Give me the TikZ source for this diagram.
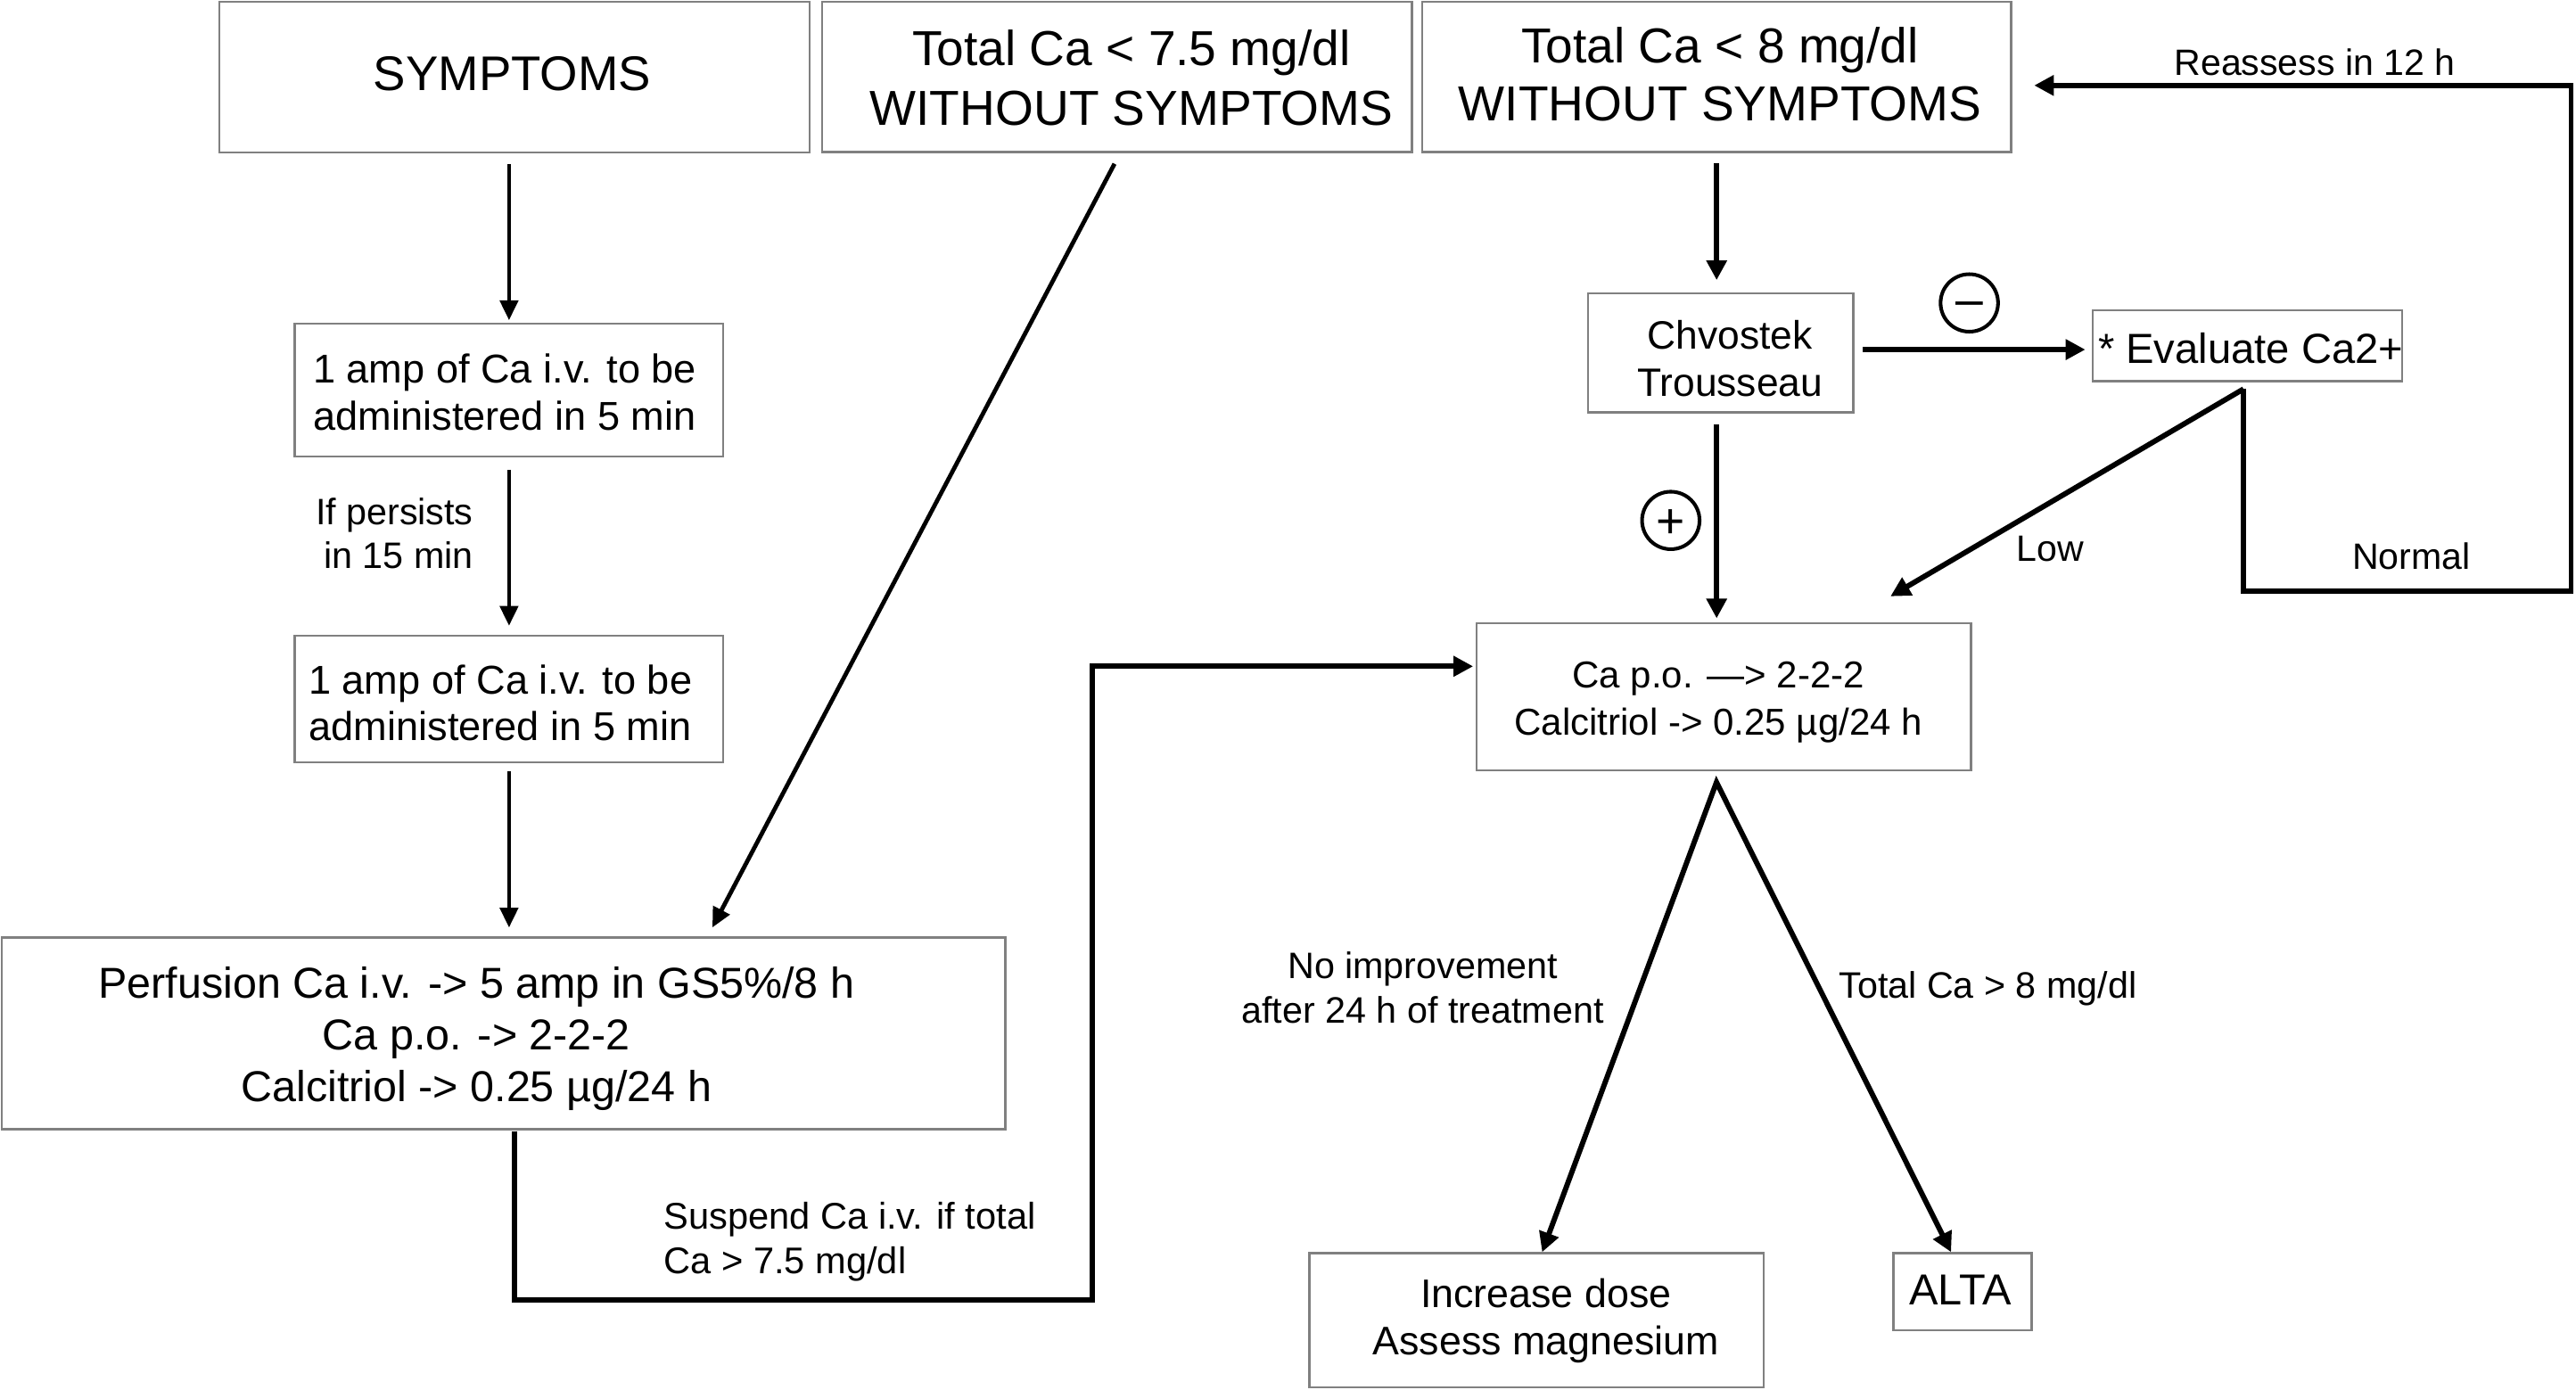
\documentclass[tikz,border=0pt]{standalone}
\usepackage{fontspec}
\setmainfont{Liberation Sans}
\usetikzlibrary{arrows.meta}
\definecolor{boxgray}{RGB}{128,128,128}
\begin{document}
\begin{tikzpicture}[x=1pt,y=-1pt,
  box/.style={draw=boxgray,line width=1.3pt,inner sep=0pt,outer sep=0pt},
  txt/.style={inner sep=0pt,outer sep=0pt,align=center},
  thinarr/.style={line width=2.2pt,-{Triangle[length=12pt,width=11pt]}},
  medarr/.style={line width=2.6pt,-{Triangle[length=12pt,width=11pt]}},
  thickarr/.style={line width=3.2pt,-{Triangle[length=12pt,width=12pt]}},
  bothpath/.style={line width=3.2pt,{Triangle[length=12pt,width=12pt]}-{Triangle[length=12pt,width=12pt]}},
  sgn/.style={circle,draw,line width=2.2pt,minimum size=35pt,inner sep=0pt}]
\useasboundingbox (0,0) rectangle (1568,846);

% ---------- boxes ----------
\node[box,minimum width=359.4pt,minimum height=91.8pt] (sym) at (313.2,46.9) {};
\node[box,minimum width=358.9pt,minimum height=91.5pt] (t75) at (680,46.75) {};
\node[box,minimum width=358.6pt,minimum height=91.5pt] (t8) at (1044.9,46.75) {};
\node[box,minimum width=260.9pt,minimum height=81pt] (b1) at (309.85,237.4) {};
\node[box,minimum width=260.9pt,minimum height=77.3pt] (b2) at (309.85,425.55) {};
\node[box,minimum width=611pt,minimum height=116.8pt] (perf) at (306.5,629) {};
\node[box,minimum width=161.5pt,minimum height=72.5pt] (chv) at (1047.25,214.75) {};
\node[box,minimum width=188.4pt,minimum height=43.2pt] (eval) at (1368,210.4) {};
\node[box,minimum width=301pt,minimum height=89.4pt] (capo) at (1049.2,424.1) {};
\node[box,minimum width=276.7pt,minimum height=81.6pt] (inc) at (935.35,803.7) {};
\node[box,minimum width=84pt,minimum height=47pt] (alta) at (1194.6,786.4) {};

% ---------- box texts ----------
\node[txt,font=\fontsize{29.6}{36}\selectfont] (symt) at (311.8,45) {SYMPTOMS};
\node[txt,font=\fontsize{29.9}{36.4}\selectfont] (t75t) at (688.7,47.5) {Total Ca < 7.5 mg/dl\\WITHOUT SYMPTOMS};
\node[txt,font=\fontsize{29.9}{35.2}\selectfont] (t8t) at (1047,45.4) {Total Ca < 8 mg/dl\\WITHOUT SYMPTOMS};
\node[txt,font=\fontsize{24.5}{28.7}\selectfont] (b1t) at (307.3,238.5) {1 amp of Ca i.v. to be\\administered in 5 min};
\node[txt,font=\fontsize{24.5}{28.7}\selectfont] (b2t) at (304.6,427.9) {1 amp of Ca i.v. to be\\administered in 5 min};
\node[txt,font=\fontsize{26.3}{31.5}\selectfont] (perft) at (290,632.3) {Perfusion Ca i.v. -> 5 amp in GS5\%/8 h\\Ca p.o. -> 2-2-2\\Calcitriol -> 0.25 µg/24 h};
\node[txt,font=\fontsize{24.1}{29}\selectfont] (chvt) at (1053,218.4) {Chvostek\\Trousseau};
\node[txt,font=\fontsize{25.6}{30}\selectfont] (evalt) at (1370,211.8) {* Evaluate Ca2+};
\node[txt,font=\fontsize{22.8}{28.7}\selectfont] (capot) at (1046,427.3) {Ca p.o. —> 2-2-2\\Calcitriol -> 0.25 µg/24 h};
\node[txt,font=\fontsize{24.3}{29}\selectfont] (inct) at (941,803.9) {Increase dose\\Assess magnesium};
\node[txt,font=\fontsize{26.4}{30}\selectfont] (altat) at (1193.3,785) {ALTA};

% ---------- labels ----------
\node[txt,align=right,anchor=east,font=\fontsize{22.4}{26.5}\selectfont] (persist) at (288,324.6) {If persists\\in 15 min};
\node[txt,align=left,anchor=west,font=\fontsize{22.6}{27.4}\selectfont] (susp) at (404,755.9) {Suspend Ca i.v. if total\\Ca > 7.5 mg/dl};
\node[txt,font=\fontsize{22.4}{27.5}\selectfont] (noimp) at (866,601.3) {No improvement\\after 24 h of treatment};
\node[txt,font=\fontsize{22.4}{27}\selectfont] (tgt8) at (1210,601.6) {Total Ca > 8 mg/dl};
\node[txt,font=\fontsize{22.3}{27}\selectfont] (reass) at (1409,38) {Reassess in 12 h};
\node[txt,font=\fontsize{22.3}{27}\selectfont] (low) at (1248,334) {Low};
\node[txt,font=\fontsize{22.3}{27}\selectfont] (normal) at (1467.8,338.6) {Normal};
\node[sgn] (minus) at (1198.7,184.4) {\fontsize{30}{30}\selectfont\smash{\raisebox{-8.1pt}{–}}};
\node[sgn] (plus) at (1017,316.8) {\fontsize{30}{30}\selectfont\smash{\raisebox{-10.5pt}{+}}};

% ---------- coordinates ----------
\coordinate (d1) at (678.4,99.7);
\coordinate (d2) at (433.6,564.6);
\coordinate (p1) at (313.4,688.6);
\coordinate (p3) at (665,791.5);
\coordinate (p4) at (665,405.6);
\coordinate (ce) at (1128,212.8);
\coordinate (ev) at (1365.6,236.8);
\coordinate (lowtip) at (1150.7,363);
\coordinate (n1) at (1365.6,360);
\coordinate (n2) at (1565,360);
\coordinate (n3) at (1565,52);
\coordinate (ap) at (1044.8,476.2);
\coordinate (inctip) at (938.7,762.2);
\coordinate (altatip) at (1187.6,762.2);

% ---------- connectors ----------
\draw[thinarr,shorten <=7pt,shorten >=2pt] (b1.north |- sym.south) -- (b1.north);
\draw[thinarr,shorten <=8pt,shorten >=6pt] (b1.south) -- (b2.north);
\draw[thinarr,shorten <=5pt,shorten >=6pt] (b2.south) -- (b2.south |- perf.north);
\draw[medarr] (d1) -- (d2);
\draw[thickarr,shorten >=2pt] (p1) |- (p3) |- (capo.west |- p4);
\draw[thickarr,shorten <=7pt,shorten >=8pt] (t8.south) -- (t8.south |- chv.north);
\draw[thickarr,shorten <=6pt,shorten >=4.5pt] (ce) -- (eval.west |- ce);
\draw[thickarr,shorten <=7.6pt,shorten >=3pt] (chv.south -| t8.south) -- (capo.north -| t8.south);
\draw[thickarr] (ev) -- (lowtip);
\draw[thickarr,shorten >=14pt] (ev) -- (n1) -- (n2) -- (n3) -- (t8.east |- n3);
\draw[bothpath] (inctip) -- (ap) -- (altatip);
\end{tikzpicture}
\end{document}
